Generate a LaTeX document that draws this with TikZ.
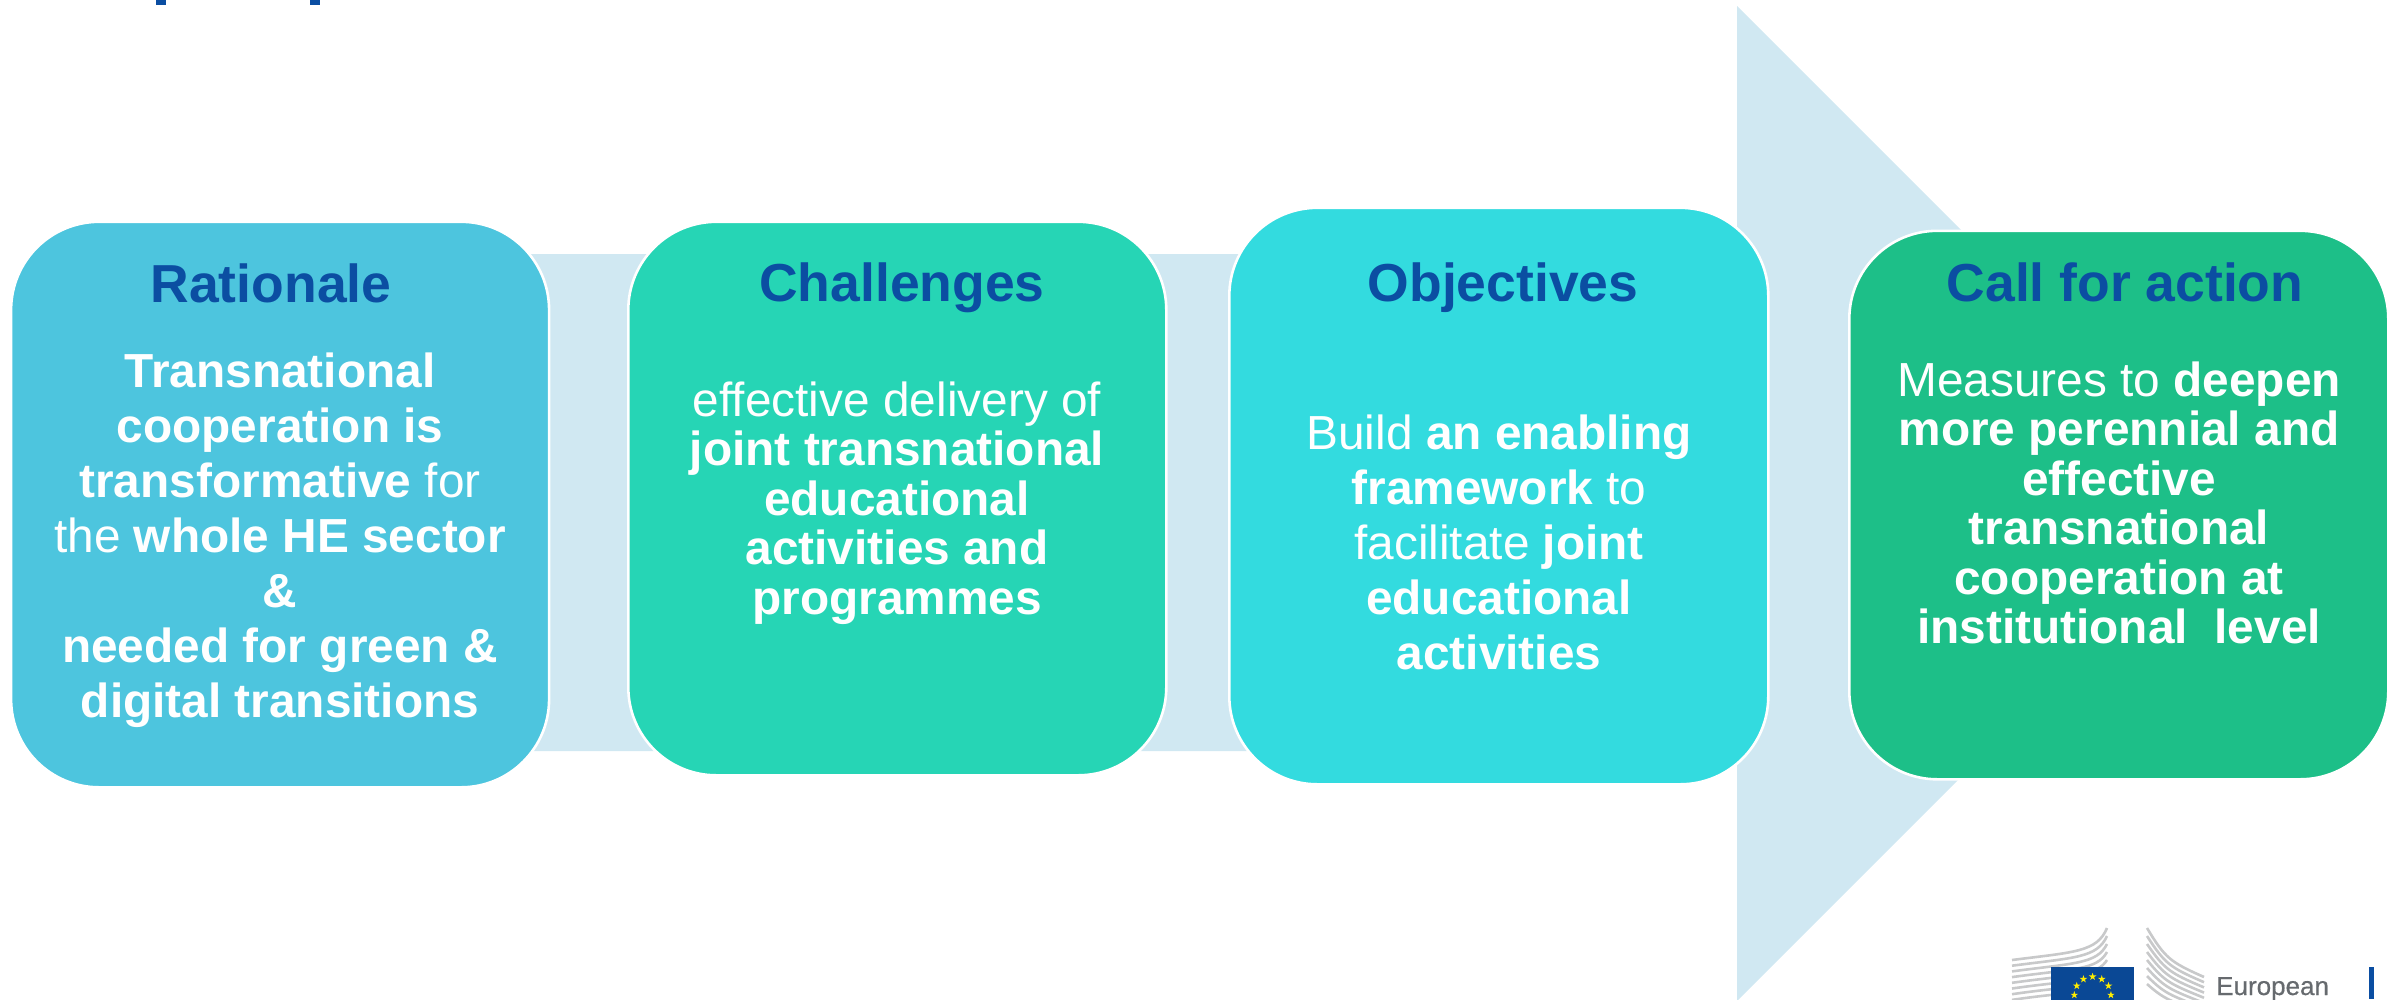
\documentclass[tikz,border=0pt]{standalone}
\usepackage{fontspec}
\setmainfont{Liberation Sans}[Ligatures=CommonOff]
\newfontfamily\eufont{Liberation Sans}[FakeBold=0.5]
\usetikzlibrary{shapes.geometric}
\definecolor{bandc}{HTML}{D0E8F2}
\definecolor{cA}{HTML}{4DC5DE}
\definecolor{cB}{HTML}{26D5B5}
\definecolor{cC}{HTML}{33DBDF}
\definecolor{cD}{HTML}{1DBF88}
\definecolor{ttl}{HTML}{0B4EA2}
\definecolor{logog}{HTML}{C8C9CA}
\definecolor{logot}{HTML}{666A6E}
\definecolor{staryl}{HTML}{FFED00}
\newcommand{\bd}[1]{\textbf{#1}}
\tikzset{
  card/.style={draw=white,line width=2.6pt,rounded corners=88pt,inner sep=0pt,anchor=north west},
  cardtitle/.style={text=ttl,font=\fontsize{53.5}{56}\selectfont\bfseries,anchor=center,inner sep=0pt,text height=38pt,text depth=0pt},
  bodyA/.style={text=white,align=center,inner sep=0pt,anchor=center,font=\fontsize{47.8}{55}\selectfont},
  bodyB/.style={text=white,align=center,inner sep=0pt,anchor=center,font=\fontsize{47.8}{49.5}\selectfont},
  estar/.style={star,star points=5,star point ratio=2.6,fill=staryl,inner sep=0pt,minimum size=8pt},
  logoline/.style={draw=logog,line width=2.6pt},
}
\begin{document}
\begin{tikzpicture}[x=1pt,y=-1pt]
\useasboundingbox (0,0) rectangle (2402,999);
\clip (0,0) rectangle (2402,999);
% title descenders
\fill[ttl] (156,0) rectangle (166,4.5);
\fill[ttl] (310,0) rectangle (320,4.5);
% arrow
\fill[bandc] (420,254) -- (1737,254) -- (1737,6) -- (2234.5,503.5) -- (1737,1001) -- (1737,751) -- (420,751) -- cycle;
% cards
\node[card,fill=cA,minimum width=538pt,minimum height=565.5pt] (a) at (9.8,220.5) {};
\node[card,fill=cB,minimum width=538pt,minimum height=553.5pt] (b) at (627,220.5) {};
\node[card,fill=cC,minimum width=539pt,minimum height=576.5pt] (c) at (1228,206.5) {};
\node[card,fill=cD,minimum width=539pt,minimum height=548.5pt] (d) at (1848,229.5) {};
% titles
\node[cardtitle] (ta) at (271,283) {Rationale};
\node[cardtitle] (tb) at (902,282) {Challenges};
\node[cardtitle] (tc) at (1503,282) {Objectives};
\node[cardtitle] (td) at (2125,282) {Call for action};
% bodies
\node[bodyA] (ba) at (280,540) {\bd{Transnational}\\\bd{cooperation is}\\\bd{transformative} for\\the \bd{whole HE sector}\\\bd{\&}\\\bd{needed for green \&}\\\bd{digital transitions}};
\node[bodyB] (bb) at (897,503) {effective delivery of\\\bd{joint transnational}\\\bd{educational}\\\bd{activities and}\\\bd{programmes}};
\node[bodyA] (bc) at (1499,542) {Build \bd{an enabling}\\\bd{framework} to\\facilitate \bd{joint}\\\bd{educational}\\\bd{activities}};
\node[bodyB] (bd) at (2119,503) {Measures to \bd{deepen}\\\bd{more perennial and}\\\bd{effective}\\\bd{transnational}\\\bd{cooperation at}\\\bd{institutional\ \ level}};
% logo: left wing
\foreach \i in {0,...,7}{
  \draw[logoline] (2012,{960+\i*5.7}) .. controls (2075,{952+\i*5.5}) and (2097,{952+\i*6}) .. (2107,{928+\i*8});
}
% logo: right wing
\foreach \i in {0,...,7}{
  \draw[logoline] (2147,{928+\i*8}) .. controls (2165,{958+\i*6}) and (2170,{962+\i*5.5}) .. (2204,{977+\i*5.2});
}
% flag
\fill[ttl!92!black] (2051,967) rectangle (2134,1005);
\foreach \k in {0,...,11}{
  \node[estar] (s\k) at ({2092.6+18.3*sin(\k*30)},{995-18.3*cos(\k*30)}) {};
}
\node[text=logot,anchor=base west,inner sep=0pt,font=\eufont\fontsize{26}{26}\selectfont] (eu) at (2216,995) {European};
\fill[ttl] (2369,967) rectangle (2374,999);
\end{tikzpicture}
\end{document}
